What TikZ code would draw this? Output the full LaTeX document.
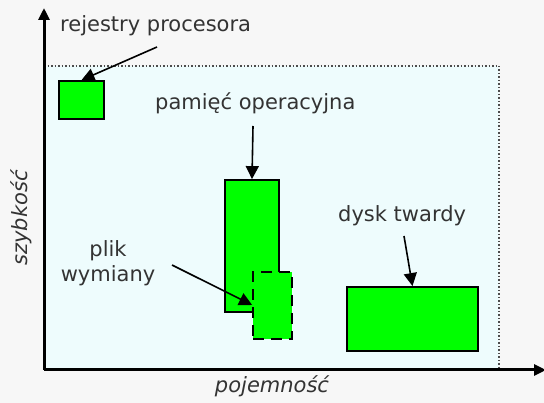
\documentclass[tikz,border=0pt]{standalone}
\usepackage{fontspec}
\setmainfont{DejaVu Sans}
\usetikzlibrary{arrows.meta}
\definecolor{bgcyan}{HTML}{EEFCFD}
\definecolor{txt}{HTML}{333333}
\definecolor{boxgreen}{HTML}{00FF00}
\begin{document}
\begin{tikzpicture}[x=1pt,y=-1pt,
  lbl/.style={text=txt,font=\fontsize{21}{25}\selectfont,inner sep=0pt},
  mem/.style={draw=black,fill=boxgreen,line width=1.8pt},
  ptr/.style={draw=black,line width=1.6pt,-{Triangle[length=13pt,width=13pt]}},
  axis/.style={draw=black,line width=3pt,-{Triangle[length=12pt,width=11pt]}}]
\useasboundingbox (0,0) rectangle (544,403);
\fill[white!97!black] (0,0) rectangle (544,403);
\fill[bgcyan] (44,66) rectangle (499,370);
\draw[dotted,line width=1.5pt,black!70] (44,66) -- (499,66) -- (499,370);
\coordinate (o) at (44,370);
\coordinate (ytop) at (44,8);
\coordinate (xend) at (546,370);
\draw[axis] (o) -- (ytop);
\draw[axis] (o) -- (xend);
\node[lbl,anchor=south,rotate=90,font=\fontsize{21}{25}\selectfont\itshape] (ylab) at (32,218) {szybkość};
\node[lbl,font=\fontsize{21}{25}\selectfont\itshape] (xlab) at (272,386) {pojemność};
% boxes
\node[mem,minimum width=45pt,minimum height=38pt,inner sep=0pt] (rej) at (81.5,100) {};
\node[mem,minimum width=54pt,minimum height=132pt,inner sep=0pt] (ram) at (252,246) {};
\node[mem,dashed,dash pattern=on 11pt off 7pt,minimum width=39pt,minimum height=67pt,inner sep=0pt] (swap) at (272.5,305.5) {};
\node[mem,minimum width=131pt,minimum height=64pt,inner sep=0pt] (hdd) at (412.5,319) {};
% labels
\node[lbl,anchor=west] (trej) at (60,26) {rejestry procesora};
\node[lbl,anchor=west] (tram) at (155,103) {pamięć operacyjna};
\node[lbl,align=center] (tswap) at (108,263) {plik\\wymiany};
\node[lbl,anchor=west] (thdd) at (338,216) {dysk twardy};
% pointers
\coordinate (p1) at (157,47);
\coordinate (p2) at (253,126);
\coordinate (p3) at (172,265);
\coordinate (p4) at (404,236);
\draw[ptr] (p1) -- (rej.north);
\draw[ptr] (p2) -- (ram.north);
\draw[ptr] (p3) -- (swap.west |- 0,305);
\draw[ptr] (p4) -- (hdd.north);
\end{tikzpicture}
\end{document}
